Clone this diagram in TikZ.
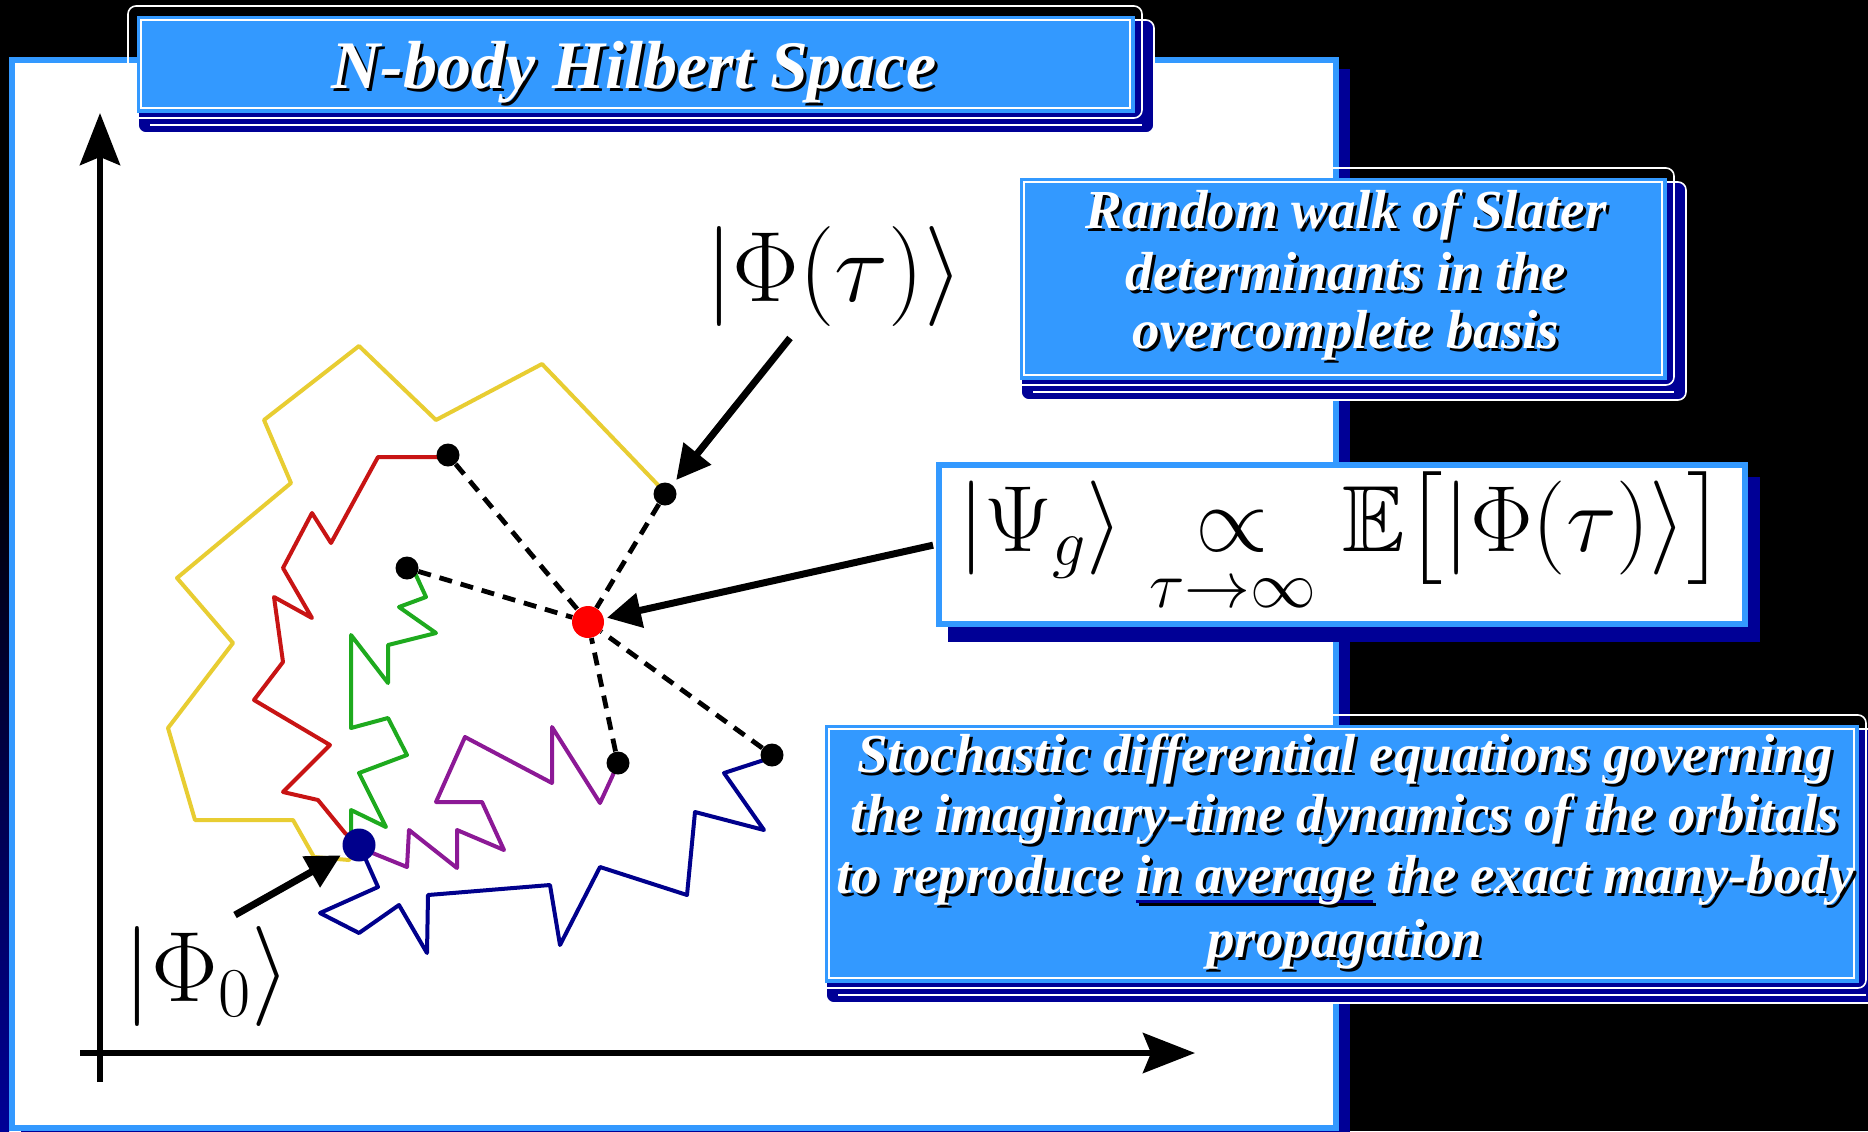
\RequirePackage{fix-cm}
\documentclass[tikz,border=0pt]{standalone}
\usepackage{amsmath,amssymb}
\DeclareFontFamily{U}{msb}{}
\DeclareFontShape{U}{msb}{m}{n}{<-6>msbm5<6-8>msbm7<8->msbm10}{}
\usepackage{fontspec}
\usetikzlibrary{arrows.meta}
\newfontfamily\boxfont{Liberation Serif}
\definecolor{pblue}{RGB}{51,153,255}
\definecolor{pnavy}{RGB}{0,0,150}
\definecolor{wyellow}{RGB}{232,205,50}
\definecolor{wred}{RGB}{200,20,20}
\definecolor{wgreen}{RGB}{30,170,30}
\definecolor{wpurple}{RGB}{140,25,150}
\definecolor{wblue}{RGB}{0,0,140}
\colorlet{ulcol}{pnavy}
\newcommand\ulx[1]{\setbox0=\hbox{#1}\rlap{\color{ulcol}\rule[-5pt]{\wd0}{1.5pt}}\box0\relax}
\newcommand\pptbox[4]{%
  \filldraw[fill=pnavy, draw=white, line width=0.8pt, rounded corners=4pt] ({#1+10},{#2+14}) rectangle ({#3+12},{#4+15});
  \draw[white, line width=0.6pt] ({#1+22},{#4+7}) -- ({#3},{#4+7});
  \draw[white, line width=0.8pt, rounded corners=4pt] (#1,#2) rectangle (#3,#4);
  \fill[pblue] ({#1+9},{#2+10}) rectangle ({#3-7},{#4-5});
  \draw[white, line width=0.6pt] ({#1+13},{#2+14}) rectangle ({#3-12},{#4-10});
}
\newcommand\stext[5]{%
  \node[anchor=base, inner sep=0pt, text=black, #4, execute at begin node={\colorlet{ulcol}{black}}] (#1-s) at ({#2+3},{#3+3}) {#5};
  \node[anchor=base, inner sep=0pt, text=white, #4] (#1) at (#2,#3) {#5};
}
\begin{document}
\begin{tikzpicture}[x=0.5pt,y=-0.5pt,
  walk/.style={line width=2pt, line join=round},
  dashline/.style={line width=2.4pt, dash pattern=on 6.5pt off 4.5pt},
  blackdot/.style={circle, fill=black, inner sep=0pt, minimum size=11.5pt},
  reddot/.style={circle, fill=red, inner sep=0pt, minimum size=16pt},
  bluedot/.style={circle, fill=wblue, inner sep=0pt, minimum size=16.5pt},
  axis/.style={line width=3pt, -{Stealth[length=26pt,width=20pt,inset=4pt]}},
  pointer/.style={line width=3.5pt, -{Triangle[length=17pt,width=17pt]}},
  ket/.style={inner sep=0pt, font=\fontsize{50}{56}\selectfont},
  boxtxt/.style={font=\boxfont\bfseries\itshape\fontsize{27.5}{30}\selectfont},
  ttltxt/.style={font=\boxfont\bfseries\itshape\fontsize{34}{40}\selectfont}]
\useasboundingbox (0,0) rectangle (1868,1131);
% background
\fill[black] (0,0) rectangle (1868,1131);
\shade[top color=black, bottom color=pnavy] (0,450) rectangle (9,1131);
% panel
\fill[pnavy] (21,69) rectangle (1350,1140);
\filldraw[fill=white, draw=pblue, line width=3pt] (12,60) rectangle (1336,1128);
% axes
\coordinate (ybot) at (100,1082);
\coordinate (ytop) at (100,113);
\coordinate (xl) at (80,1053);
\coordinate (xr) at (1195,1053);
\draw[axis] (ybot) -- (ytop);
\draw[axis] (xl) -- (xr);
% walk positions
\coordinate (c0) at (359,845);
\coordinate (cr) at (588,622);
\coordinate (c1) at (448,455);
\coordinate (c2) at (665,494);
\coordinate (c3) at (407,568);
\coordinate (c4) at (618,763);
\coordinate (c5) at (772,755);
% walks
\draw[walk, wyellow] (c0) -- (349,860) -- (314,857) -- (293,820) -- (195,820) -- (168,728) -- (233,643) -- (177,578) -- (291,483) -- (264,420) -- (359,346) -- (436,420) -- (542,364) -- (658,485) -- (c2);
\draw[walk, wred] (c0) -- (345,833) -- (318,800) -- (283,792) -- (330,745) -- (254,700) -- (283,662) -- (274,597) -- (312,618) -- (283,568) -- (312,513) -- (331,543) -- (378,457) -- (440,457) -- (c1);
\draw[walk, wgreen] (c0) -- (351,833) -- (351,810) -- (386,827) -- (359,773) -- (407,755) -- (388,718) -- (351,728) -- (351,635) -- (388,683) -- (388,645) -- (436,633) -- (399,607) -- (426,597) -- (415,573) -- (c3);
\draw[walk, wpurple] (c0) -- (370,852) -- (407,867) -- (409,830) -- (457,868) -- (457,830) -- (504,850) -- (482,802) -- (436,802) -- (465,737) -- (552,783) -- (552,727) -- (600,803) -- (612,777) -- (c4);
\draw[walk, wblue] (c0) -- (366,860) -- (378,887) -- (320,913) -- (359,933) -- (399,905) -- (427,953) -- (428,895) -- (550,885) -- (560,945) -- (600,867) -- (687,895) -- (695,812) -- (764,830) -- (724,773) -- (764,760) -- (c5);
% dots
\node[reddot] (red) at (cr) {};
\node[bluedot] (phi0) at (c0) {};
\node[blackdot] (d1) at (c1) {};
\node[blackdot] (d2) at (c2) {};
\node[blackdot] (d3) at (c3) {};
\node[blackdot] (d4) at (c4) {};
\node[blackdot] (d5) at (c5) {};
\foreach \d in {d1,d2,d3,d4,d5} \draw[dashline] (\d) -- (red);
% labels
\node[ket] (lbltau) at (834,276) {$\lvert\Phi(\tau)\rangle$};
\node[ket] (lbl0) at (207,976) {$\lvert\Phi_0\rangle$};
\coordinate (a1) at (790,338);
\coordinate (a3) at (235,915);
\draw[pointer, shorten >=3pt] (a1) -- (d2);
\draw[pointer, shorten >=2pt] (a3) -- (phi0);
% math box
\fill[pnavy] (948,477) rectangle (1760,642);
\node[draw=pblue, line width=3pt, fill=white, minimum width=403pt, minimum height=79.5pt, inner sep=0pt, font=\fontsize{47}{56}\selectfont] (mathbox) at (1342,544.5)
  {$\lvert\Psi_g\rangle \mathrel{\mathop{\propto}\limits_{\tau\to\infty}} \mathbb{E}\bigl[\lvert\Phi(\tau)\rangle\bigr]$};
\draw[pointer, shorten <=1.5pt, shorten >=1.5pt] (mathbox.west) -- (red);
% text boxes
\pptbox{1011}{168}{1674}{385}
\stext{rw1}{1346}{228}{boxtxt}{Random walk of Slater}
\stext{rw2}{1346}{290}{boxtxt}{determinants in the}
\stext{rw3}{1346}{348}{boxtxt}{overcomplete basis}
\pptbox{816}{715}{1866}{988}
\stext{sd1}{1345}{772}{boxtxt}{Stochastic differential equations governing}
\stext{sd2}{1345}{832}{boxtxt}{the imaginary-time dynamics of the orbitals}
\stext{sd3}{1345}{893}{boxtxt}{to reproduce \ulx{in average} the exact many-body}
\stext{sd4}{1345}{957}{boxtxt}{propagation}
% title
\pptbox{128}{6}{1142}{118}
\stext{ttl}{634}{88}{ttltxt}{N-body Hilbert Space}
\end{tikzpicture}
\end{document}
